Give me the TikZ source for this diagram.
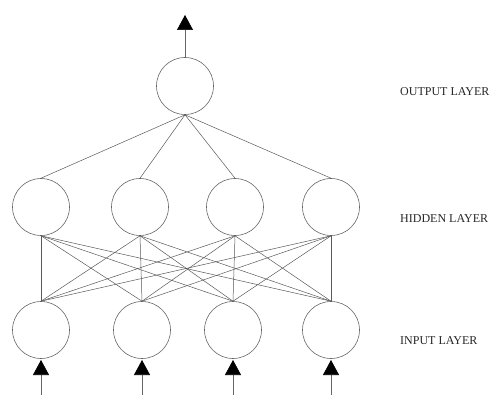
\documentclass[tikz,border=0pt]{standalone}
\usepackage{fontspec}
\setmainfont{Liberation Serif}
\usetikzlibrary{arrows.meta}
\begin{document}
\begin{tikzpicture}[x=1pt,y=-1pt,
  neuron/.style={circle,draw=black!60,line width=0.6pt,minimum size=57pt,inner sep=0pt},
  link/.style={draw=black!65,line width=0.5pt},
  signal/.style={draw=black!60,line width=0.7pt,-{Triangle[width=16pt,length=15pt,fill=black,color=black]}},
  layerlabel/.style={anchor=base west,inner sep=0pt,font=\fontsize{12}{14}\selectfont,text=black!85}]
\useasboundingbox (0,0) rectangle (492,395);
% nodes
\node[neuron] (out) at (185,86) {};
\node[neuron] (h1) at (41,207) {};
\node[neuron] (h2) at (140,207) {};
\node[neuron] (h3) at (235,207) {};
\node[neuron] (h4) at (331,207) {};
\node[neuron] (i1) at (41,330) {};
\node[neuron] (i2) at (142,330) {};
\node[neuron] (i3) at (233,330) {};
\node[neuron] (i4) at (331,330) {};
% free ends of arrows
\coordinate (otip) at (185,15);
\coordinate (s1) at (41,395);
\coordinate (s2) at (142,395);
\coordinate (s3) at (233,395);
\coordinate (s4) at (331,395);
\coordinate (t1) at (41,360);
\coordinate (t2) at (142,360);
\coordinate (t3) at (233,360);
\coordinate (t4) at (331,360);
% connections output-hidden
\foreach \h in {h1,h2,h3,h4}
  \draw[link] (out.south) -- (\h.north);
% connections hidden-input
\foreach \h in {h1,h2,h3,h4}
  \foreach \i in {i1,i2,i3,i4}
    \draw[link] (\h.south) -- (\i.north);
% arrows
\draw[signal] (out.north) -- (otip);
\foreach \k in {1,2,3,4}
  \draw[signal] (s\k) -- (t\k);
% labels
\node[layerlabel] (lo) at (400,96) {OUTPUT LAYER};
\node[layerlabel] (lh) at (400,223) {HIDDEN LAYER};
\node[layerlabel] (li) at (400,344) {INPUT LAYER};
\end{tikzpicture}
\end{document}
